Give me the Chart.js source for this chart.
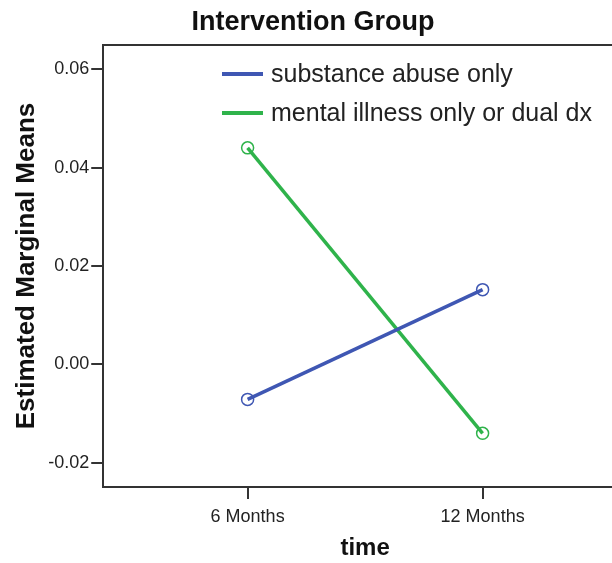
<!DOCTYPE html>
<html>
<head>
<meta charset="utf-8">
<script src="https://cdn.jsdelivr.net/npm/chart.js@4/dist/chart.umd.min.js"></script>
<style>
  html, body { margin: 0; padding: 0; background: #fff; }
  #wrap { width: 612px; height: 563px; overflow: hidden; position: relative; }
  canvas { display: block; }
</style>
</head>
<body>
<div id="wrap"><canvas id="c" width="640" height="563"></canvas></div>
<script>
const chartTitle = "Intervention Group";
const categories = ["6 Months", "12 Months"];
const seriesNames = ["substance abuse only", "mental illness only or dual dx"];
const substanceAbuse = [-0.0071, 0.0152];
const mentalIllness = [0.0440, -0.0140];
const yTicks = [-0.02, 0.00, 0.02, 0.04, 0.06];
const yAxisTitle = "Estimated Marginal Means";
const xAxisTitle = "time";

const BLUE = "#3f57b3";
const GREEN = "#2fb34b";
const INK = "#222222";

function toPoints(vals) { return vals.map((v, i) => ({ x: i + 1, y: v })); }

const framePlugin = {
  id: "frame",
  afterDraw(chart) {
    const { ctx, chartArea: a } = chart;
    ctx.save();
    ctx.strokeStyle = "#333";
    ctx.lineWidth = 2;
    ctx.beginPath();
    ctx.moveTo(a.left, a.top);
    ctx.lineTo(a.right, a.top);
    ctx.lineTo(a.right, a.bottom);
    ctx.stroke();
    // title
    ctx.fillStyle = "#111";
    ctx.font = "bold 27px 'Liberation Sans', Arial, sans-serif";
    ctx.textAlign = "center";
    ctx.textBaseline = "middle";
    ctx.fillText(chartTitle, 313, 23);
    // legend
    ctx.font = "25px 'Liberation Sans', Arial, sans-serif";
    ctx.textAlign = "left";
    chart.data.datasets.forEach((ds, i) => {
      const y = 74 + i * 39;
      ctx.strokeStyle = ds.borderColor;
      ctx.lineWidth = 4;
      ctx.beginPath();
      ctx.moveTo(222, y);
      ctx.lineTo(263, y);
      ctx.stroke();
      ctx.fillStyle = INK;
      ctx.fillText(ds.label, 271, y + 1);
    });
    ctx.restore();
  }
};

new Chart(document.getElementById("c"), {
  type: "line",
  data: {
    datasets: [
      { label: seriesNames[0], data: toPoints(substanceAbuse), borderColor: BLUE, backgroundColor: "rgba(0,0,0,0)",
        borderWidth: 3.5, pointRadius: 6, pointBorderWidth: 1.5, pointBackgroundColor: "rgba(0,0,0,0)", pointBorderColor: BLUE },
      { label: seriesNames[1], data: toPoints(mentalIllness), borderColor: GREEN, backgroundColor: "rgba(0,0,0,0)",
        borderWidth: 3.5, pointRadius: 6, pointBorderWidth: 1.5, pointBackgroundColor: "rgba(0,0,0,0)", pointBorderColor: GREEN }
    ]
  },
  options: {
    responsive: false,
    animation: false,
    devicePixelRatio: 1,
    layout: { padding: { top: 45, right: 13, left: 5, bottom: 0 } },
    plugins: { legend: { display: false }, tooltip: { enabled: false }, title: { display: false } },
    scales: {
      x: {
        type: "linear",
        min: 0.3856, max: 2.6144,
        afterBuildTicks(scale) { scale.ticks = categories.map((c, i) => ({ value: i + 1 })); },
        afterFit(scale) { scale.height = 76; },
        ticks: { callback: (v) => categories[v - 1] ?? "", color: INK, padding: 7, maxRotation: 0,
                 font: { family: "'Liberation Sans', Arial, sans-serif", size: 18 } },
        grid: { drawOnChartArea: false, drawTicks: true, tickLength: 12, color: "#333", lineWidth: 2 },
        border: { display: true, color: "#333", width: 2 },
        title: { display: true, text: xAxisTitle, color: "#111", padding: { top: 0, bottom: 0 },
                 font: { family: "'Liberation Sans', Arial, sans-serif", size: 24, weight: "bold" } }
      },
      y: {
        type: "linear",
        min: -0.0249, max: 0.0649,
        afterBuildTicks(scale) { scale.ticks = yTicks.map(v => ({ value: v })); },
        ticks: { callback: (v) => Number(v).toFixed(2), color: INK, padding: 2,
                 font: { family: "'Liberation Sans', Arial, sans-serif", size: 18 } },
        grid: { drawOnChartArea: false, drawTicks: true, tickLength: 12, color: "#333", lineWidth: 2 },
        border: { display: true, color: "#333", width: 2 },
        title: { display: true, text: yAxisTitle, color: "#111", padding: { top: 6, bottom: 4 },
                 font: { family: "'Liberation Sans', Arial, sans-serif", size: 26, weight: "bold" } }
      }
    }
  },
  plugins: [framePlugin]
});
</script>
</body>
</html>
